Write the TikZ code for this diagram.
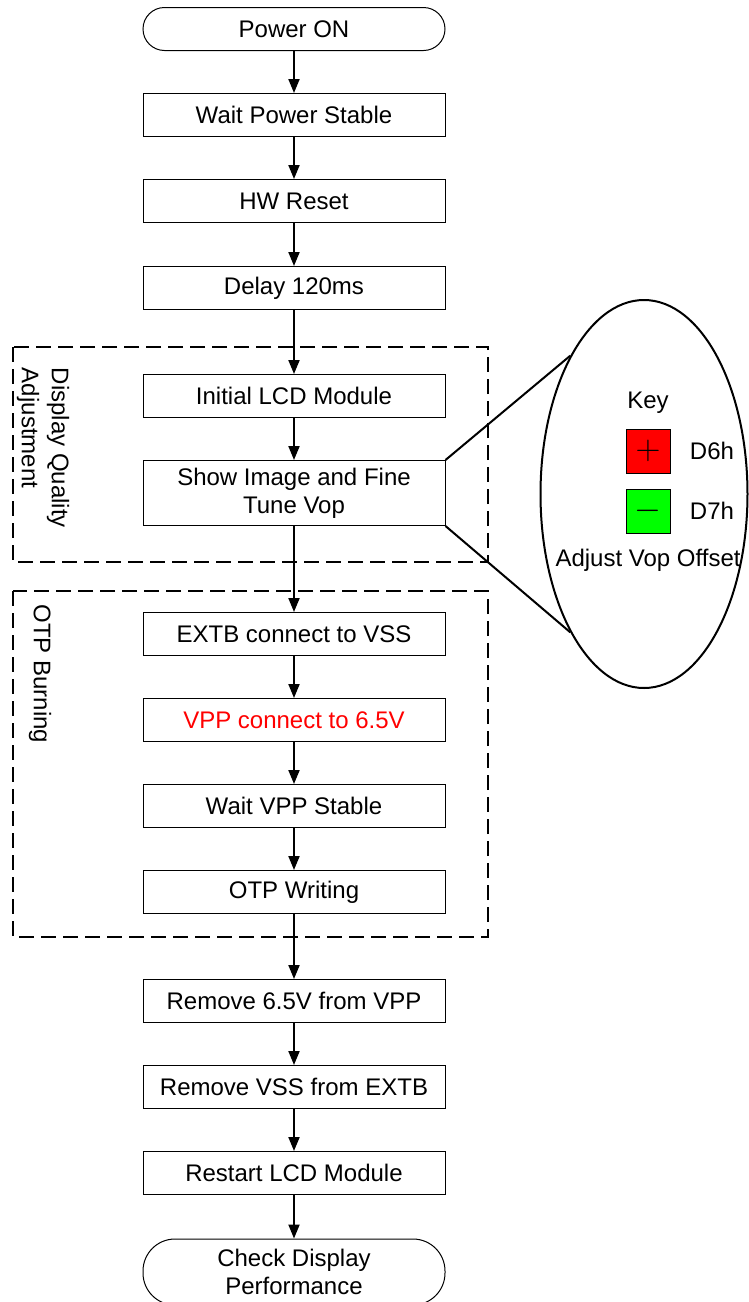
\documentclass[tikz,border=0pt]{standalone}
\usepackage{fontspec}
\setmainfont{Liberation Sans}
\usetikzlibrary{arrows.meta, shapes.geometric}

\begin{document}
\begin{tikzpicture}[x=0.5pt, y=-0.5pt, >={Triangle[length=7pt,width=5.5pt]},
  every node/.style={font=\fontsize{12}{14}\selectfont},
  procbox/.style={draw, line width=0.5pt, minimum width=151pt, minimum height=21.5pt, inner sep=0pt, align=center},
  termbox/.style={procbox, rounded corners=10.75pt},
  flow/.style={->, line width=1pt},
  group/.style={draw, dash pattern=on 7.5pt off 3.5pt, line width=1pt},
  keysq/.style={draw, line width=0.5pt, minimum size=22pt, inner sep=0pt, font=\fontsize{17}{17}\selectfont}]
  \useasboundingbox (0,0) rectangle (749,1302);
  % dashed groups
  \draw[group] (13,347) rectangle (488,562);
  \draw[group] (13,591) rectangle (488,937);
  \node[rotate=-90, align=left] (dqa) at (43,448) {Display Quality\\[1pt]Adjustment};
  \node[rotate=-90] (otp) at (40,674) {OTP Burning};
  % steps
  \node[termbox] (pwr) at (294,29) {Power ON};
  \node[procbox] (wait) at (294,115) {Wait Power Stable};
  \node[procbox] (rst) at (294,201) {HW Reset};
  \node[procbox] (dly) at (294,288) {Delay 120ms};
  \node[procbox] (init) at (294,396) {Initial LCD Module};
  \node[procbox, minimum height=32.5pt] (show) at (294,493) {Show Image and Fine\\Tune Vop};
  \node[procbox] (extb) at (294,634) {EXTB connect to VSS};
  \node[procbox, text=red] (vpp) at (294,720) {VPP connect to 6.5V};
  \node[procbox] (vwait) at (294,806) {Wait VPP Stable};
  \node[procbox] (otpw) at (294,892) {OTP Writing};
  \node[procbox] (rm65) at (294,1001) {Remove 6.5V from VPP};
  \node[procbox] (rmvss) at (294,1087) {Remove VSS from EXTB};
  \node[procbox] (rst2) at (294,1173) {Restart LCD Module};
  \node[termbox, minimum height=33pt, rounded corners=16pt] (chk) at (294,1272) {Check Display\\Performance};
  % arrows
  \foreach \a/\b in {pwr/wait, wait/rst, rst/dly, dly/init, init/show, show/extb, extb/vpp, vpp/vwait,
    vwait/otpw, otpw/rm65, rm65/rmvss, rmvss/rst2, rst2/chk} {\draw[flow] (\a) -- (\b);}
  % key callout
  \node[draw, ellipse, line width=1pt, minimum width=103.5pt, minimum height=194pt, inner sep=0pt] (callout) at (644,494) {};
  \draw[line width=1pt] (show.north east) -- (callout.118);
  \draw[line width=1pt] (show.south east) -- (callout.242);
  \node (keyt) at (648,403) {Key};
  \node[keysq, fill=red] (inc) at (648,451) {$+$};
  \node[keysq, fill=green] (dec) at (648,511) {$-$};
  \node (d6) at (712,451) {D6h};
  \node (d7) at (712,511) {D7h};
  \node (adj) at (648,560) {Adjust Vop Offset};
\end{tikzpicture}
\end{document}
